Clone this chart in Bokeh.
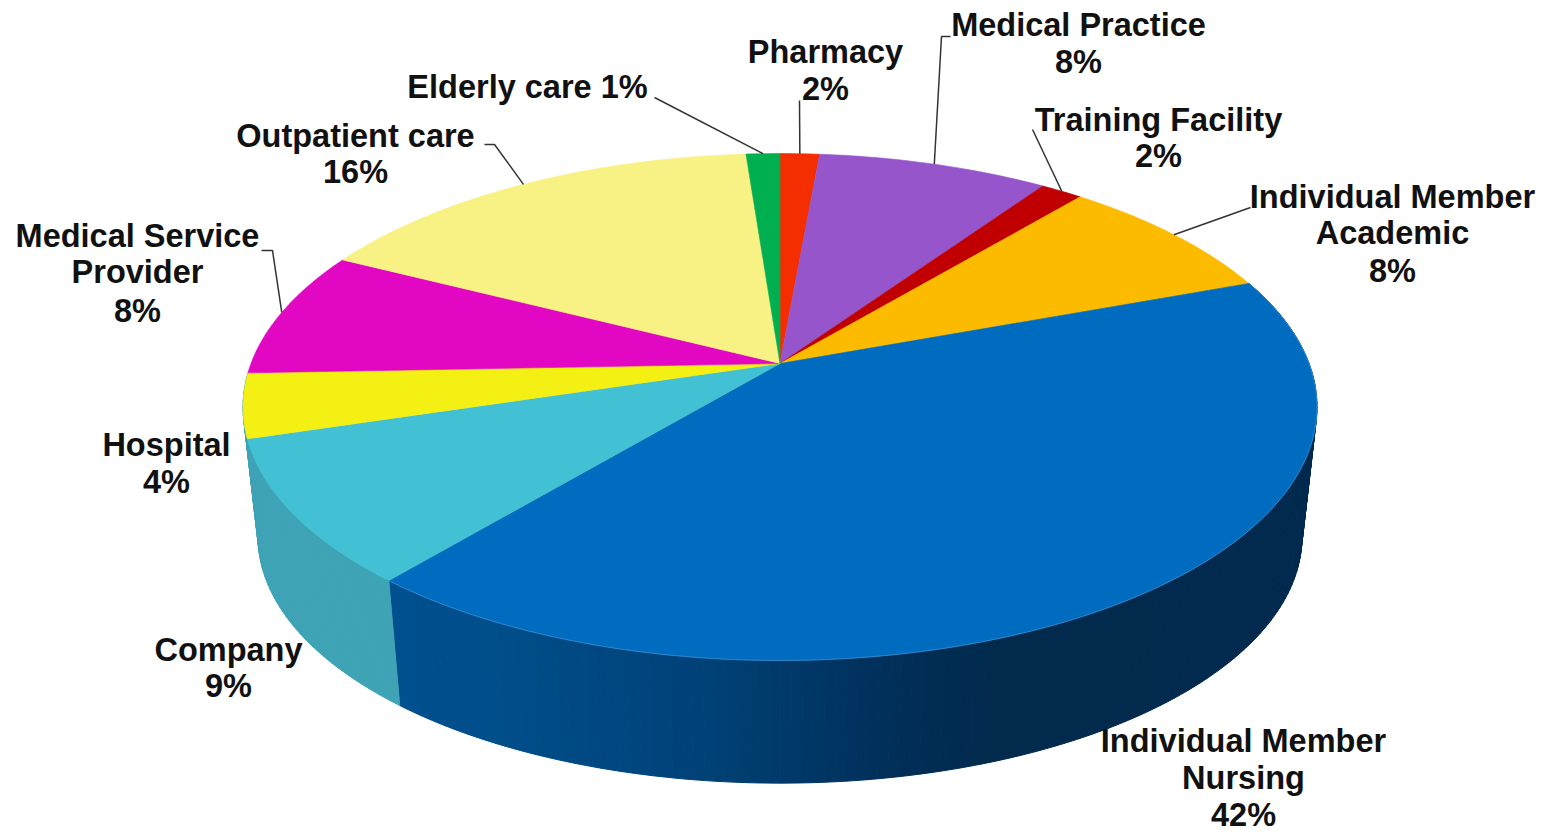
import numpy as np
from bokeh.plotting import figure
from bokeh.models import Range1d
from bokeh.core.properties import value
from bokeh.embed import file_html
from bokeh.resources import INLINE

# ---- data, clockwise from the top of the pie ----
categories = ["Pharmacy", "Medical Practice", "Training Facility", "Individual Member Academic",
              "Individual Member Nursing", "Company", "Hospital", "Medical Service Provider",
              "Outpatient care", "Elderly care"]
shares = [1.4, 8.2, 1.5, 8.3, 41.7, 9.2, 4.1, 8.1, 16.3, 1.2]
percent_labels = ["2%", "8%", "2%", "8%", "42%", "9%", "4%", "8%", "16%", "1%"]
top_colors = ["#F52E00", "#9655CB", "#C00000", "#FDBB00", "#006CBF",
              "#42C0D4", "#F5F014", "#E207C2", "#F8F285", "#00B050"]
company_side = "#3FA3B6"

# ---- label layout (page pixels) ----
label_lines = [
    [("Pharmacy", 825, 51), ("2%", 825, 88)],
    [("Medical Practice", 1078, 24), ("8%", 1078, 61)],
    [("Training Facility", 1158, 119), ("2%", 1158, 155)],
    [("Individual Member", 1392, 196), ("Academic", 1392, 232), ("8%", 1392, 270)],
    [("Individual Member", 1243, 740), ("Nursing", 1243, 777), ("42%", 1243, 814)],
    [("Company", 228, 649), ("9%", 228, 685)],
    [("Hospital", 166, 444), ("4%", 166, 481)],
    [("Medical Service", 137, 235), ("Provider", 137, 271), ("8%", 137, 310)],
    [("Outpatient care", 355, 135), ("16%", 355, 171)],
    [("Elderly care 1%", 527, 86)],
]
leader_elbows = {
    0: [(799, 100)],
    1: [(950, 36), (941, 36)],
    2: [(1032, 129)],
    3: [(1250, 207)],
    7: [(261, 250), (272, 250)],
    8: [(484, 144), (494, 144)],
    9: [(654, 97)],
}

# ---- pie geometry ----
CX, CY = 779.5, 363.0
A, B, K = 246.0, 529.0, 0.1716
SCALE, DEPTH = 0.972, 131.0


def rim(theta):
    w = 1 + K * np.cos(theta)
    return CX + B * np.sin(theta) / w, CY - A * np.cos(theta) / w


def lower_rim(theta):
    x, y = rim(theta)
    return CX + SCALE * (x - CX), CY + SCALE * (y - CY) + DEPTH


edges = np.radians(np.concatenate([[0], np.cumsum(shares)]) * 3.6)

p = figure(width=1553, height=832, output_backend="svg", toolbar_location=None,
           x_range=Range1d(0, 1553), y_range=Range1d(832, 0),
           min_border=0, outline_line_color=None, background_fill_color="white")
p.axis.visible = False
p.grid.visible = False

# side wall: strips along the front, shaded with position
shade_x = [390, 500, 700, 900, 1000, 1320]
shade_r = [0, 0, 0, 1, 1, 1]
shade_g = [80, 78, 66, 47, 42, 43]
shade_b = [143, 138, 120, 88, 77, 79]
xs, ys, cs = [], [], []
for i in (4, 5, 6):
    n = max(2, int(np.degrees(edges[i + 1] - edges[i]) / 1.0))
    t = np.linspace(edges[i], edges[i + 1], n + 1)
    for a, b in zip(t[:-1], t[1:]):
        xa, ya = rim(a); xb, yb = rim(b)
        la = lower_rim(a); lb = lower_rim(b)
        xs.append([xa, xb, lb[0], la[0]])
        ys.append([ya, yb, lb[1], la[1]])
        if i == 4:
            xm = (xa + xb) / 2
            cs.append("#%02X%02X%02X" % (int(np.interp(xm, shade_x, shade_r)),
                                        int(np.interp(xm, shade_x, shade_g)),
                                        int(np.interp(xm, shade_x, shade_b))))
        else:
            cs.append(company_side)
p.patches(xs, ys, fill_color=cs, line_color=cs, line_width=1)

# top face
txs, tys = [], []
for i in range(len(shares)):
    n = max(4, int(np.degrees(edges[i + 1] - edges[i])))
    t = np.linspace(edges[i], edges[i + 1], n + 1)
    x, y = rim(t)
    txs.append([CX] + list(x))
    tys.append([CY] + list(y))
p.patches(txs, tys, fill_color=top_colors, line_color=top_colors, line_width=0.6)

# light rim on the front of the top face
t = np.linspace(edges[4], edges[5], 160)
x, y = rim(t)
p.line(x, y, line_color="#3C8FCF", line_width=1, line_alpha=0.8)

# leader lines, ending on the rim at each slice's middle
for i, elbow in leader_elbows.items():
    ex, ey = rim((edges[i] + edges[i + 1]) / 2)
    p.line([q[0] for q in elbow] + [float(ex)], [q[1] for q in elbow] + [float(ey)],
           line_color="#333333", line_width=1.5)

# labels
tx, ty, tt = [], [], []
for lines in label_lines:
    for s, x0, y0 in lines:
        tt.append(s); tx.append(x0); ty.append(y0)
p.text(tx, ty, text=tt, text_font=value("Liberation Sans"), text_font_style="bold",
       text_font_size="32.5px", text_color="#111111", text_align="center", text_baseline="middle")

open("out.html", "w").write(file_html(p, INLINE))
